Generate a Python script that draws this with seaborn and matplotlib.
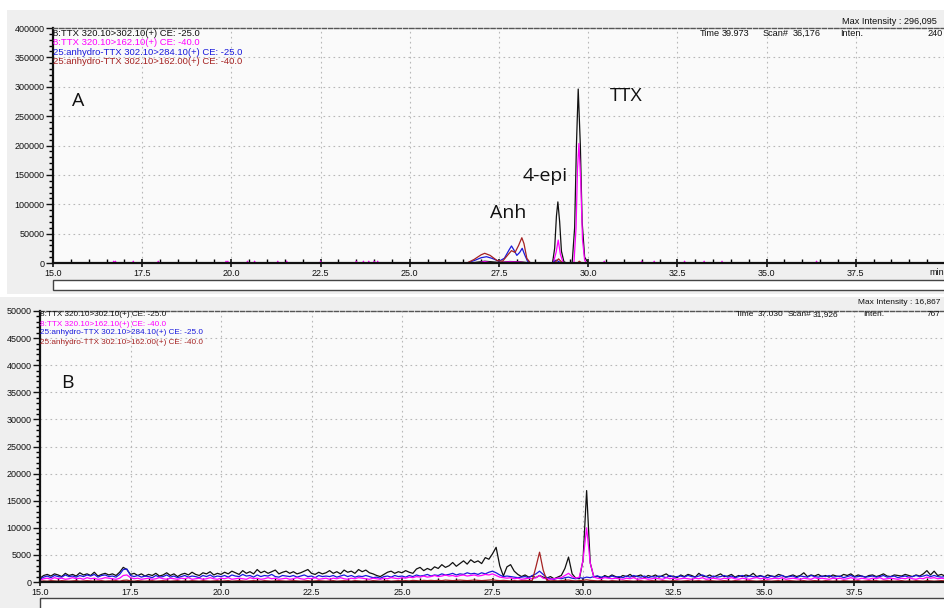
import numpy as np
import pandas as pd
import matplotlib
matplotlib.use("Agg")
import matplotlib.pyplot as plt
import seaborn as sns
from matplotlib.patches import Rectangle
from matplotlib.ticker import MultipleLocator, FuncFormatter

# ---------------- DATA ----------------
trace_labels = [
    "8:TTX 320.10>302.10(+) CE: -25.0",
    "8:TTX 320.10>162.10(+) CE: -40.0",
    "25:anhydro-TTX 302.10>284.10(+) CE: -25.0",
    "25:anhydro-TTX 302.10>162.00(+) CE: -40.0",
]
trace_colors = ["#111111", "#ff00ff", "#1a1adc", "#a52222"]

# Panel A (time in min, intensity)
a_black_t = [15.0, 26.7, 26.9, 27.1, 27.3, 27.5, 27.8, 28.1, 28.4, 29.0, 29.06, 29.11, 29.15, 29.2, 29.25,
             29.32, 29.4, 29.55, 29.62, 29.67, 29.72, 29.78, 29.83, 29.9, 30.0, 40.5]
a_black_y = [0, 0, 1500, 3000, 2000, 1000, 2500, 2000, 0, 0, 25000, 80000, 104000, 70000, 20000,
             2000, 0, 0, 60000, 200000, 296095, 200000, 70000, 10000, 0, 0]

a_mag_t = [15.0, 16.68, 16.7, 16.72, 16.73, 16.75, 16.77, 17.23, 17.25, 17.27, 17.93, 17.95, 17.97,
           19.83, 19.85, 19.87, 19.88, 19.9, 19.92, 20.43, 20.45, 20.47, 20.63, 20.65, 20.67,
           21.28, 21.3, 21.32, 21.53, 21.55, 21.57, 22.48, 22.5, 22.52, 23.48, 23.5, 23.52,
           23.68, 23.7, 23.72, 23.83, 23.85, 23.87, 23.98, 24.0, 24.02, 24.08, 24.1, 24.12,
           26.9, 27.1, 27.3, 27.8, 28.1, 28.3, 29.02, 29.1, 29.16, 29.22, 29.3, 29.6, 29.66, 29.7,
           29.74, 29.79, 29.84, 29.9, 29.95, 30.43, 30.45, 30.47, 31.48, 31.5, 31.52, 31.83, 31.85,
           31.87, 32.68, 32.7, 32.72, 33.23, 33.25, 33.27, 33.73, 33.75, 33.77, 36.38, 36.4, 36.42, 40.5]
a_mag_y = [0, 0, 3000, 0, 0, 3000, 0, 0, 3000, 0, 0, 3000, 0,
           0, 3000, 0, 0, 3000, 0, 0, 3000, 0, 0, 3000, 0,
           0, 3000, 0, 0, 3000, 0, 0, 3000, 0, 0, 3000, 0,
           0, 3000, 0, 0, 3000, 0, 0, 3000, 0, 0, 3000, 0,
           0, 2500, 0, 2000, 1500, 0, 0, 18000, 39000, 15000, 0, 0, 60000, 160000,
           203500, 140000, 40000, 5000, 0, 0, 3000, 0, 0, 3000, 0, 0, 3000,
           0, 0, 3000, 0, 0, 3000, 0, 0, 3000, 0, 0, 3000, 0, 0]

a_blue_t = [15.0, 26.6, 26.8, 27.0, 27.15, 27.3, 27.5, 27.65, 27.78, 27.85, 27.92, 28.0, 28.08, 28.15,
            28.22, 28.3, 28.4, 29.0, 29.1, 29.2, 29.3, 40.5]
a_blue_y = [0, 0, 4000, 9000, 10700, 8000, 3000, 8000, 22000, 29000, 22000, 13000, 18000, 25000,
            14000, 3000, 0, 0, 5000, 1500, 0, 0]

a_brown_t = [15.0, 26.6, 26.8, 27.0, 27.1, 27.25, 27.45, 27.6, 27.75, 27.85, 27.95, 28.05, 28.14, 28.2,
             28.28, 28.38, 29.05, 29.17, 29.28, 29.7, 29.75, 29.82, 40.5]
a_brown_y = [0, 0, 6000, 14000, 16500, 13000, 4000, 3000, 14000, 21000, 18000, 30000, 43000, 33000,
             8000, 0, 0, 7000, 0, 0, 3000, 0, 0]

# Panel B: intensities sampled every 0.1 min from 15.0 to 40.0
b_time = np.round(np.arange(150, 401) / 10.0, 1)
b_black = [
    700, 1200, 1400, 1100, 1500, 1300, 1000, 1600, 1200, 1400,
    1100, 1700, 1300, 1500, 1200, 1800, 1100, 1400, 1600, 1300,
    1500, 1200, 1800, 2700, 2300, 1400, 1600, 1200, 1500, 1100,
    1400, 1200, 1600, 1100, 1300, 1700, 1200, 1500, 1000, 1400,
    1600, 1300, 1800, 1400, 1200, 1700, 1500, 1900, 1300, 1600,
    1400, 1800, 1500, 2000, 1700, 1400, 2100, 1600, 1900, 1500,
    2300, 1700, 2000, 1600, 1900, 2200, 1500, 1800, 2000, 1600,
    1900, 1500, 1700, 2000, 2300, 1600, 1400, 1800, 1500, 1700,
    2100, 1600, 1900, 1500, 2200, 1800, 2000, 1600, 2300, 1900,
    2200, 1700, 1500, 1200, 1000, 1400, 1800, 2000, 1600, 1900,
    1700, 2100, 1800, 1600, 2400, 2700, 2100, 2500, 2200, 2800,
    2500, 3200, 2700, 3000, 3600, 2900, 3400, 3900, 3300, 4100,
    3600, 3900, 3400, 4500, 4200, 5200, 6400, 3000, 1100, 2800,
    3200, 2000, 1400, 1000, 1300, 900, 1100, 800, 1200, 900,
    700, 1000, 600, 900, 1200, 2500, 4600, 1500, 700, 600,
    4000, 16867, 3500, 900, 1100, 700, 1200, 900, 1300, 1000,
    800, 1200, 1000, 1400, 900, 1100, 1300, 800, 1200, 1000,
    1300, 900, 1200, 1500, 1000, 1100, 800, 1300, 1000, 1400,
    1200, 900, 1600, 1100, 1000, 1300, 900, 1200, 1500, 1000,
    1100, 1400, 900, 1200, 1000, 1300, 1100, 1600, 1000, 1200,
    900, 1300, 1100, 1000, 1400, 1200, 900, 1100, 1300, 1000,
    1200, 1700, 1000, 1300, 1100, 1400, 1000, 1200, 900, 1300,
    1100, 1000, 1400, 1200, 1500, 1000, 1300, 1100, 900, 1200,
    1300, 1000, 1200, 1500, 1100, 1000, 1300, 1200, 1100, 1400,
    1200, 1000, 1300, 1100, 1500, 2100, 1300, 2000, 1200, 1400,
    1100]
b_blue = [
    500, 900, 1100, 800, 1200, 1000, 900, 1300, 1000, 1100,
    900, 1200, 1000, 1300, 1100, 1400, 900, 1200, 1300, 1000,
    1100, 900, 1400, 2300, 2400, 1200, 1000, 1200, 900, 1100,
    1000, 800, 1200, 900, 1000, 1300, 900, 1100, 800, 1000,
    1200, 900, 1100, 1000, 800, 1200, 1000, 1300, 900, 1100,
    1000, 1200, 900, 1300, 1100, 1000, 1400, 1100, 1200, 900,
    1300, 1000, 1200, 1100, 1400, 1000, 900, 1200, 1100, 1000,
    1200, 900, 1100, 1300, 1000, 1100, 800, 1200, 1000, 1100,
    1000, 1200, 900, 1100, 1300, 1000, 1200, 900, 1100, 1000,
    1200, 1000, 800, 900, 700, 1000, 1100, 900, 1200, 1000,
    1100, 900, 1200, 1000, 1300, 1100, 1200, 1400, 1100, 1300,
    1200, 1500, 1300, 1400, 1600, 1300, 1500, 1400, 1700, 1500,
    1600, 1400, 1700, 1500, 1800, 2000, 1700, 1300, 1000, 1100,
    1000, 900, 800, 900, 1000, 800, 1200, 1500, 2000, 1400,
    800, 600, 500, 700, 600, 800, 900, 700, 600, 800,
    700, 900, 800, 1000, 1100, 900, 1000, 800, 1100, 900,
    1000, 800, 1100, 900, 1200, 1000, 900, 1100, 800, 1000,
    900, 1100, 1000, 800, 1200, 900, 1000, 1100, 900, 1200,
    1000, 900, 1100, 1300, 1000, 800, 1100, 900, 1000, 1200,
    900, 1100, 800, 1000, 1200, 900, 1100, 1000, 900, 1100,
    1000, 800, 1100, 900, 1000, 1200, 900, 1000, 1100, 800,
    1100, 1000, 900, 1200, 1000, 900, 1100, 1000, 1200, 900,
    1000, 1100, 800, 1000, 1200, 900, 1000, 1100, 900, 1000,
    1100, 900, 1000, 1200, 900, 1000, 1100, 800, 1000, 1100,
    900, 1000, 1200, 1000, 1100, 1300, 1000, 1200, 1000, 900,
    1000]
b_magenta = [
    300, 600, 700, 500, 800, 600, 700, 500, 600, 800,
    600, 700, 500, 800, 600, 700, 500, 600, 800, 700,
    600, 500, 700, 1200, 1300, 800, 600, 700, 500, 600,
    700, 500, 600, 800, 600, 500, 700, 600, 500, 700,
    600, 800, 500, 600, 700, 500, 600, 800, 600, 500,
    700, 600, 800, 500, 600, 700, 600, 500, 800, 600,
    700, 500, 600, 800, 600, 700, 500, 600, 700, 500,
    600, 800, 600, 500, 700, 600, 800, 500, 600, 700,
    500, 700, 600, 800, 600, 500, 700, 600, 800, 700,
    600, 500, 700, 600, 500, 700, 600, 800, 700, 600,
    800, 700, 900, 800, 1000, 900, 1100, 900, 1000, 1200,
    1000, 1100, 1300, 1100, 1200, 1000, 1200, 1300, 1100, 1200,
    1300, 1100, 1200, 1400, 1300, 1500, 1200, 900, 800, 700,
    800, 600, 700, 500, 600, 700, 600, 800, 1200, 700,
    600, 500, 600, 700, 800, 1200, 1600, 1000, 700, 900,
    4000, 10000, 3500, 900, 700, 600, 800, 700, 600, 700,
    600, 500, 700, 600, 800, 500, 600, 700, 500, 600,
    700, 600, 500, 800, 600, 700, 500, 600, 700, 600,
    500, 700, 600, 800, 500, 600, 700, 600, 500, 700,
    600, 800, 600, 500, 700, 600, 500, 700, 800, 600,
    700, 500, 600, 700, 600, 800, 500, 600, 700, 600,
    500, 700, 600, 500, 800, 600, 700, 600, 500, 700,
    600, 700, 500, 600, 800, 600, 500, 700, 600, 500,
    700, 600, 800, 500, 600, 700, 600, 500, 700, 600,
    800, 600, 500, 700, 600, 900, 700, 800, 600, 700,
    600]
b_brown = [
    100, 200, 150, 250, 200, 150, 250, 200, 150, 200,
    250, 150, 200, 250, 200, 150, 200, 250, 150, 200,
    200, 250, 150, 300, 350, 200, 150, 250, 200, 150,
    200, 250, 150, 200, 250, 200, 150, 200, 250, 150,
    200, 150, 250, 200, 150, 250, 200, 150, 200, 250,
    150, 200, 250, 150, 200, 250, 200, 150, 200, 250,
    200, 150, 250, 200, 150, 200, 250, 200, 150, 200,
    250, 200, 150, 200, 250, 150, 200, 250, 200, 150,
    200, 250, 150, 200, 250, 200, 150, 250, 200, 150,
    200, 150, 250, 200, 150, 200, 250, 150, 200, 250,
    200, 250, 200, 300, 250, 200, 300, 250, 300, 250,
    300, 250, 350, 300, 250, 300, 350, 300, 250, 300,
    350, 300, 250, 300, 350, 400, 300, 250, 300, 250,
    200, 250, 200, 250, 300, 250, 300, 2800, 5500, 2200,
    300, 200, 250, 200, 250, 300, 350, 250, 200, 250,
    300, 400, 300, 250, 200, 250, 200, 150, 250, 200,
    150, 200, 250, 200, 150, 200, 250, 150, 200, 250,
    200, 150, 250, 200, 150, 250, 200, 150, 200, 250,
    150, 200, 250, 150, 200, 250, 200, 150, 200, 250,
    200, 150, 250, 200, 150, 200, 250, 200, 150, 200,
    250, 200, 150, 200, 250, 150, 200, 250, 200, 150,
    200, 250, 150, 200, 250, 200, 150, 250, 200, 150,
    200, 150, 250, 200, 150, 200, 250, 150, 200, 250,
    200, 250, 150, 200, 250, 200, 150, 200, 250, 150,
    200, 150, 250, 200, 150, 250, 200, 150, 200, 250,
    200]

a_info = ["Max Intensity : 296,095", "Time", "39.973", "Scan#", "36,176", "Inten.", "240"]
b_info = ["Max Intensity : 16,867", "Time", "37.030", "Scan#", "31,926", "Inten.", "767"]

# ---------------- FIGURE ----------------
W, H = 945, 608
fig = plt.figure(figsize=(W / 100, H / 100), dpi=100)
fig.patch.set_facecolor("white")
plt.rcParams["font.family"] = ["Liberation Sans", "DejaVu Sans"]


def fx(px):
    return px / W


def fy(py):
    return 1 - py / H


def frect(x0, y0, x1, y1, z, **kw):
    r = Rectangle((fx(x0), fy(y1)), fx(x1) - fx(x0), fy(y0) - fy(y1),
                  transform=fig.transFigure, zorder=z, **kw)
    fig.patches.append(r)


# panel backgrounds (behind axes)
frect(7, 10, 946, 294, -5, facecolor="#efefef", edgecolor="none")
frect(0, 297, 946, 609, -5, facecolor="#efefef", edgecolor="none")
# scroll boxes
frect(53, 280, 950, 290, -4, facecolor="white", edgecolor="#444444", linewidth=1.0)
frect(40, 598, 950, 612, -4, facecolor="white", edgecolor="#444444", linewidth=1.0)


def make_axes(x0, y_top, y_bot, xmax, ymax, ymajor, yminor):
    ax = fig.add_axes([fx(x0), fy(y_bot), fx(W) - fx(x0), fy(y_top) - fy(y_bot)])
    ax.set_zorder(1)
    ax.set_facecolor("#fafafa")
    ax.set_xlim(15, xmax)
    ax.set_ylim(0, ymax)
    ax.set_xticks([15, 17.5, 20, 22.5, 25, 27.5, 30, 32.5, 35, 37.5, 40])
    ax.xaxis.set_major_formatter(FuncFormatter(lambda v, p: "" if v >= 40 else f"{v:.1f}"))
    ax.xaxis.set_minor_locator(MultipleLocator(0.5))
    ax.yaxis.set_major_locator(MultipleLocator(ymajor))
    ax.yaxis.set_minor_locator(MultipleLocator(yminor))
    ax.yaxis.set_major_formatter(FuncFormatter(lambda v, p: f"{int(v)}"))
    ax.tick_params(axis="x", which="major", direction="inout", length=6, width=1.2,
                   labelsize=6.5, pad=1.5, colors="#111111")
    ax.tick_params(axis="x", which="minor", direction="in", length=3, width=1.0)
    ax.tick_params(axis="y", which="major", direction="out", length=5, width=1.0,
                   labelsize=6.5, pad=1, colors="#111111")
    ax.tick_params(axis="y", which="minor", direction="out", length=3, width=1.0)
    for s in ["left", "bottom"]:
        ax.spines[s].set_linewidth(1.6)
        ax.spines[s].set_color("#111111")
    ax.spines["right"].set_visible(False)
    ax.spines["top"].set_linestyle((0, (3, 1.5)))
    ax.spines["top"].set_color("#555555")
    ax.spines["top"].set_linewidth(1.0)
    ax.grid(True, which="major", color="#b8b8b8", linestyle=(0, (1.5, 3)), linewidth=0.8)
    ax.set_axisbelow(True)
    return ax


# ---- Panel A ----
axA = make_axes(53, 28, 263, 40.0, 400000, 50000, 10000)
a_series = [(a_black_t, a_black_y), (a_mag_t, a_mag_y), (a_blue_t, a_blue_y), (a_brown_t, a_brown_y)]
for (t, y), c in zip(a_series, trace_colors):
    sns.lineplot(x=t, y=y, ax=axA, color=c, linewidth=0.9, sort=False, estimator=None, legend=False)
axA.set_xlabel("")
axA.set_ylabel("")

# ---- Panel B ----
axB = make_axes(40, 311, 582, 40.0, 50000, 5000, 1000)
dfB = pd.DataFrame({"t": b_time, "black": b_black, "blue": b_blue, "magenta": b_magenta, "brown": b_brown})
for col, c in [("black", trace_colors[0]), ("blue", trace_colors[2]),
               ("magenta", trace_colors[1]), ("brown", trace_colors[3])]:
    sns.lineplot(data=dfB, x="t", y=col, ax=axB, color=c, linewidth=0.9, sort=False,
                 estimator=None, legend=False)
axB.set_xlabel("")
axB.set_ylabel("")

# ---- legend texts ----
for i, (lab, c) in enumerate(zip(trace_labels, trace_colors)):
    fig.text(fx(53), fy(33 + i * 9.6), lab, color=c, fontsize=6.8, va="center", ha="left", zorder=5)
    fig.text(fx(40), fy(315 + i * 9.0), lab, color=c, fontsize=5.9, va="center", ha="left", zorder=5)

# ---- header info texts ----
a_x = [842, 700, 722, 763, 793, 840, 927]
a_y = [21, 33, 33, 33, 33, 33, 33]
for s, x, y in zip(a_info, a_x, a_y):
    fig.text(fx(x), fy(y), s, fontsize=6.6, va="center", ha="left", color="#111111", zorder=5)
b_x = [858, 736, 758, 788, 813, 863, 927]
b_y = [303, 315, 315, 315, 315, 315, 315]
for s, x, y in zip(b_info, b_x, b_y):
    fig.text(fx(x), fy(y), s, fontsize=6.0, va="center", ha="left", color="#111111", zorder=5)

fig.text(fx(929), fy(272), "min", fontsize=6.5, va="center", ha="left", color="#111111", zorder=5)

# ---- annotations ----
ann_font = ["Open Sans", "DejaVu Sans"]
for s, x, y in [("A", 78, 101), ("TTX", 626, 96), ("4-epi", 545, 176), ("Anh", 508, 213), ("B", 67, 383)]:
    fig.text(fx(x), fy(y), s, fontsize=14, family=ann_font, va="center", ha="center",
             color="#111111", zorder=5)

fig.savefig("out.png", dpi=100)
